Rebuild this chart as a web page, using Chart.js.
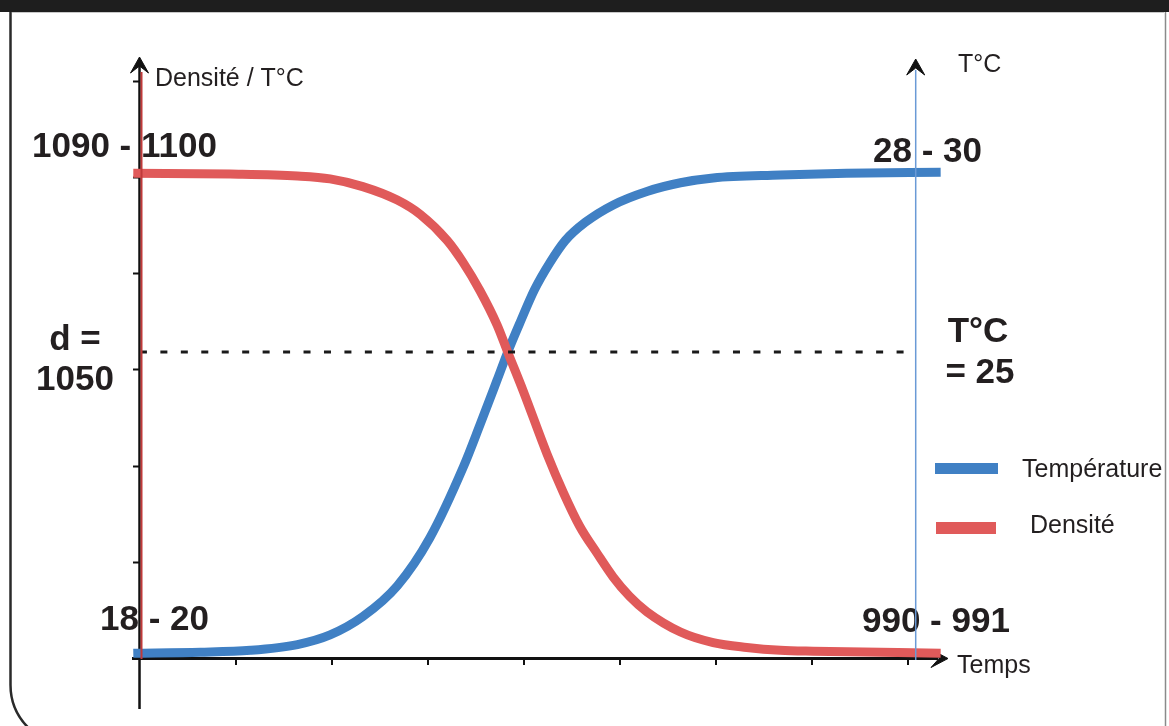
<!DOCTYPE html>
<html><head><meta charset="utf-8">
<script src="https://cdn.jsdelivr.net/npm/chart.js@4.4.1/dist/chart.umd.min.js"></script>
<style>html,body{margin:0;padding:0;background:#fff;overflow:hidden}canvas{display:block}</style>
</head><body>
<canvas id="c" width="1169" height="726"></canvas>
<script>
// ---- Data (time in tick units, level in tick units of the left axis) ----
const tempTime  = [-0.07, 0.63, 1.15, 1.64, 1.98, 2.32, 2.68, 3.02, 3.37, 3.54, 3.72, 3.83, 3.96, 4.11, 4.27, 4.43, 4.64, 4.93, 5.28, 5.63, 5.97, 6.67, 7.36, 8.34];
const tempLevel = [0.05, 0.06, 0.08, 0.14, 0.24, 0.43, 0.75, 1.25, 1.99, 2.42, 2.89, 3.18, 3.49, 3.83, 4.11, 4.34, 4.53, 4.71, 4.85, 4.94, 4.99, 5.02, 5.04, 5.05];
const densTime  = [-0.07, 0.94, 1.64, 1.98, 2.32, 2.68, 2.92, 3.20, 3.36, 3.54, 3.72, 3.83, 3.99, 4.24, 4.41, 4.58, 4.76, 4.93, 5.10, 5.28, 5.63, 5.97, 6.32, 6.67, 7.01, 8.34];
const densLevel = [5.04, 5.03, 5.01, 4.98, 4.90, 4.76, 4.61, 4.34, 4.12, 3.82, 3.46, 3.18, 2.78, 2.12, 1.72, 1.37, 1.09, 0.84, 0.64, 0.48, 0.27, 0.16, 0.11, 0.08, 0.07, 0.05];
const crossLevel = 3.18;
const crossRange = [0.02, 7.97];
const xTicks = [1, 2, 3, 4, 5, 6, 7, 8];
const yTicks = [1, 2, 3, 4, 5, 6];
const tempAxisAt = 8.08;
const seriesLabels = ['Température', 'Densité'];
const seriesColors = ['#4080c4', '#e05a5a'];

const FONT = '"Liberation Sans", Arial, sans-serif';
const TXT = '#231f20';

function pts(xa, ya){ return xa.map((x,i)=>({x:x, y:ya[i]})); }

const deco = {
  id: 'deco',
  beforeDatasetsDraw(chart){
    const ctx = chart.ctx, xs = chart.scales.x, ys = chart.scales.y;
    const X = v => xs.getPixelForValue(v), Y = v => ys.getPixelForValue(v);
    const x0 = X(0), y0 = Y(0);
    ctx.save();
    // frame
    ctx.fillStyle = '#1e1e1e'; ctx.fillRect(0, 0, 1169, 12);
    ctx.strokeStyle = '#c8c8c8'; ctx.lineWidth = 1;
    ctx.beginPath(); ctx.moveTo(12, 12.5); ctx.lineTo(1164, 12.5); ctx.stroke();
    ctx.strokeStyle = '#2a2a2a'; ctx.lineWidth = 2.5;
    ctx.beginPath(); ctx.moveTo(10.5, 12); ctx.lineTo(10.5, 685);
    ctx.arc(70.5, 685, 60, Math.PI, Math.PI/2, true); ctx.lineTo(1169, 745); ctx.stroke();
    ctx.strokeStyle = '#8a8a8a'; ctx.lineWidth = 1.5;
    ctx.beginPath(); ctx.moveTo(1165.5, 12); ctx.lineTo(1165.5, 726); ctx.stroke();

    // axes
    ctx.strokeStyle = '#111'; ctx.fillStyle = '#111';
    ctx.lineWidth = 2.5;
    ctx.beginPath(); ctx.moveTo(x0 - 0.5, 64); ctx.lineTo(x0 - 0.5, 709); ctx.stroke();
    ctx.lineWidth = 3;
    ctx.beginPath(); ctx.moveTo(132, y0 + 0.5); ctx.lineTo(938, y0 + 0.5); ctx.stroke();
    ctx.lineWidth = 2;
    yTicks.forEach(v => { const y = Math.round(Y(v)) + 0.5; ctx.beginPath(); ctx.moveTo(x0 - 7, y); ctx.lineTo(x0, y); ctx.stroke(); });
    xTicks.forEach(v => { const x = Math.round(X(v)); ctx.beginPath(); ctx.moveTo(x, y0); ctx.lineTo(x, y0 + 7); ctx.stroke(); });
    // arrows
    ctx.lineJoin = 'miter'; ctx.lineWidth = 1;
    const arrowUp = (tx, ty) => { ctx.beginPath(); ctx.moveTo(tx, ty); ctx.lineTo(tx + 9, ty + 16); ctx.lineTo(tx, ty + 9); ctx.lineTo(tx - 9, ty + 16); ctx.closePath(); ctx.fill(); ctx.stroke(); };
    arrowUp(x0 - 0.5, 57);
    arrowUp(X(tempAxisAt), 59);
    ctx.beginPath(); ctx.moveTo(948, y0 + 0.5); ctx.lineTo(931, y0 - 8.5); ctx.lineTo(939, y0 + 0.5); ctx.lineTo(931, y0 + 9.5); ctx.closePath(); ctx.fill(); ctx.stroke();

    // texts
    ctx.fillStyle = TXT; ctx.textBaseline = 'alphabetic';
    ctx.font = '25px ' + FONT; ctx.textAlign = 'left';
    ctx.fillText('Densité / T°C', 155, 86);
    ctx.fillText('T°C', 958, 72);
    ctx.fillText('Temps', 957, 673);
    ctx.font = 'bold 35px ' + FONT;
    ctx.fillText('1090 - 1100', 32, 157);
    ctx.fillText('28 - 30', 873, 162);
    ctx.fillText('18 - 20', 100, 630);
    ctx.fillText('990 - 991', 862, 632);
    ctx.textAlign = 'center';
    ctx.fillText('d =', 75, 350);
    ctx.fillText('1050', 75, 390);
    ctx.fillText('T°C', 978, 342);
    ctx.fillText('= 25', 980, 383);

    // legend
    ctx.textAlign = 'left'; ctx.font = '25px ' + FONT;
    ctx.fillStyle = seriesColors[0]; ctx.fillRect(935, 463, 63, 11);
    ctx.fillStyle = TXT; ctx.fillText(seriesLabels[0], 1022, 477);
    ctx.fillStyle = seriesColors[1]; ctx.fillRect(936, 522, 60, 12);
    ctx.fillStyle = TXT; ctx.fillText(seriesLabels[1], 1030, 533);
    ctx.restore();
  },
  afterDatasetsDraw(chart){
    const ctx = chart.ctx, xs = chart.scales.x, ys = chart.scales.y;
    const x0 = xs.getPixelForValue(0), y0 = ys.getPixelForValue(0);
    ctx.save();
    ctx.strokeStyle = '#c03a3a'; ctx.lineWidth = 2;
    ctx.beginPath(); ctx.moveTo(x0 + 1.5, 72); ctx.lineTo(x0 + 1.5, y0 + 1); ctx.stroke();
    ctx.strokeStyle = '#6a9ad6'; ctx.lineWidth = 1.5;
    const xb = xs.getPixelForValue(tempAxisAt);
    ctx.beginPath(); ctx.moveTo(xb, 70); ctx.lineTo(xb, y0 + 2); ctx.stroke();
    ctx.restore();
  }
};

new Chart(document.getElementById('c'), {
  type: 'line',
  data: {
    datasets: [
      { label: 'crossing', data: pts(crossRange, [crossLevel, crossLevel]), borderColor: '#1a1a1a', borderWidth: 3,
        borderDash: [7, 13.45], borderDashOffset: 2, pointRadius: 0, order: 0, clip: false, tension: 0 },
      { label: seriesLabels[1], data: pts(densTime, densLevel), borderColor: seriesColors[1], borderWidth: 9,
        pointRadius: 0, cubicInterpolationMode: 'monotone', order: 1, clip: false, borderCapStyle: 'butt' },
      { label: seriesLabels[0], data: pts(tempTime, tempLevel), borderColor: seriesColors[0], borderWidth: 9,
        pointRadius: 0, cubicInterpolationMode: 'monotone', order: 2, clip: false, borderCapStyle: 'butt' }
    ]
  },
  options: {
    responsive: false, devicePixelRatio: 1, animation: false, events: [],
    layout: { padding: { left: 133, right: 222, top: 60, bottom: 68 } },
    scales: {
      x: { type: 'linear', min: -0.073, max: 8.406, display: false },
      y: { type: 'linear', min: 0, max: 6.216, display: false }
    },
    plugins: { legend: { display: false }, tooltip: { enabled: false } }
  },
  plugins: [deco]
});
</script></body></html>
